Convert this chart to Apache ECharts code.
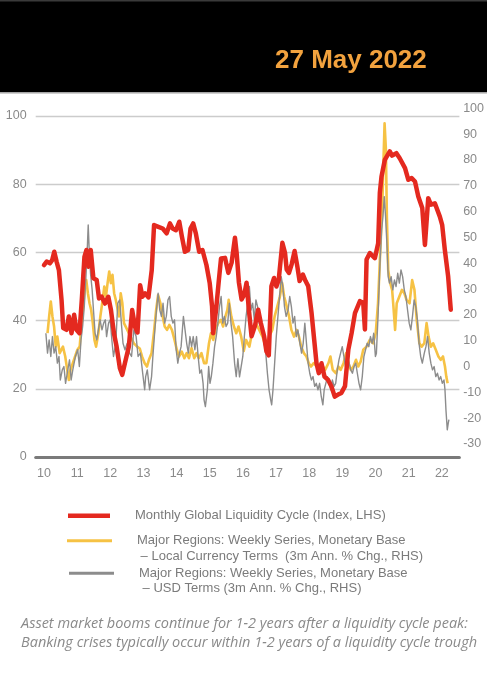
<!DOCTYPE html>
<html>
<head>
<meta charset="utf-8">
<script src="https://cdn.jsdelivr.net/npm/echarts@6/dist/echarts.min.js"></script>
<style>
html,body{margin:0;padding:0;background:#fff;}
#chart{width:487px;height:680px;}
</style>
</head>
<body>
<div id="chart"></div>
<script>
// ---- DATA (decimal year, value) ----
const liquidityCycle = [
[2010.00,56.3],[2010.08,57.3],[2010.18,56.8],[2010.25,57.8],[2010.31,60.2],[2010.38,57.3],[2010.45,54.8],[2010.53,46.0],
[2010.58,37.8],[2010.68,37.3],[2010.75,41.2],[2010.83,36.3],[2010.91,41.7],[2010.98,37.3],[2011.07,36.3],[2011.14,46.0],
[2011.22,58.7],[2011.28,60.7],[2011.34,55.8],[2011.41,60.7],[2011.49,52.4],[2011.59,51.9],[2011.66,46.5],[2011.74,47.0],
[2011.84,45.0],[2011.94,47.0],[2012.02,43.1],[2012.11,36.3],[2012.19,32.4],[2012.29,26.0],[2012.36,24.1],[2012.44,27.5],
[2012.56,32.4],[2012.66,43.1],[2012.75,38.0],[2012.82,36.5],[2012.90,50.4],[2012.97,47.0],[2013.05,48.0],[2013.15,46.8],
[2013.25,54.8],[2013.32,68.0],[2013.45,67.5],[2013.58,67.0],[2013.70,65.6],[2013.80,68.5],[2013.88,67.0],[2013.98,66.5],
[2014.08,69.0],[2014.16,64.6],[2014.25,60.2],[2014.35,60.7],[2014.42,67.0],[2014.50,68.5],[2014.58,65.6],[2014.68,60.2],
[2014.78,60.7],[2014.90,56.3],[2015.00,50.9],[2015.07,44.1],[2015.10,36.3],[2015.19,43.1],[2015.27,51.4],[2015.34,58.2],
[2015.46,58.4],[2015.56,54.0],[2015.66,57.0],[2015.76,64.3],[2015.81,59.9],[2015.88,51.1],[2015.96,46.2],[2016.04,47.6],
[2016.11,51.1],[2016.18,43.2],[2016.26,35.4],[2016.36,38.3],[2016.46,43.2],[2016.54,39.3],[2016.64,35.4],[2016.71,31.0],
[2016.78,29.8],[2016.86,50.1],[2016.94,52.5],[2017.01,50.0],[2017.08,52.0],[2017.19,62.8],[2017.27,59.9],[2017.32,55.0],
[2017.39,54.0],[2017.47,56.5],[2017.56,60.4],[2017.64,56.0],[2017.71,51.6],[2017.81,53.5],[2017.89,51.6],[2017.97,50.1],
[2018.07,42.3],[2018.15,34.4],[2018.22,27.5],[2018.29,24.6],[2018.37,27.5],[2018.46,23.6],[2018.57,22.6],[2018.67,20.7],
[2018.77,17.7],[2018.87,18.3],[2018.97,18.8],[2019.08,20.8],[2019.18,31.5],[2019.28,36.4],[2019.38,42.2],[2019.53,45.7],
[2019.63,45.2],[2019.68,37.4],[2019.73,57.9],[2019.83,59.8],[2019.98,58.3],[2020.08,62.7],[2020.13,77.4],[2020.18,82.2],
[2020.28,87.1],[2020.43,89.6],[2020.50,88.4],[2020.56,88.6],[2020.63,89.1],[2020.73,87.6],[2020.89,84.7],[2020.99,81.3],
[2021.09,81.8],[2021.19,80.8],[2021.29,76.4],[2021.41,73.0],[2021.49,62.2],[2021.59,75.9],[2021.67,74.0],[2021.79,74.4],
[2021.94,70.5],[2022.01,68.1],[2022.09,60.8],[2022.19,53.0],[2022.27,43.2]
];

const baseLocalCcy = [
[2010.11,12.9],[2010.16,19.4],[2010.21,25.2],[2010.26,19.4],[2010.31,15.5],[2010.36,7.7],[2010.41,11.6],[2010.48,5.2],
[2010.53,4.5],[2010.58,7.7],[2010.65,3.9],[2010.71,-1.3],[2010.76,-5.2],[2010.81,-1.3],[2010.88,1.3],[2010.95,3.9],
[2011.02,6.5],[2011.09,7.7],[2011.14,15.5],[2011.19,21.9],[2011.24,29.7],[2011.29,33.5],[2011.34,28.4],[2011.39,24.5],
[2011.44,21.9],[2011.49,16.8],[2011.54,10.3],[2011.59,7.7],[2011.66,12.9],[2011.72,19.4],[2011.79,25.8],[2011.84,31.0],
[2011.89,27.1],[2011.94,32.3],[2011.99,36.8],[2012.04,32.3],[2012.09,35.5],[2012.14,28.4],[2012.19,25.8],[2012.29,19.4],
[2012.34,28.4],[2012.39,24.5],[2012.44,16.8],[2012.54,14.2],[2012.64,11.6],[2012.74,9.0],[2012.84,7.7],[2012.92,7.0],
[2012.99,3.9],[2013.07,1.3],[2013.14,0.0],[2013.20,2.6],[2013.28,5.2],[2013.35,12.9],[2013.42,21.9],[2013.48,27.7],
[2013.55,24.5],[2013.62,19.4],[2013.68,15.5],[2013.75,14.2],[2013.82,16.1],[2013.90,14.2],[2013.98,10.3],[2014.05,6.5],
[2014.12,3.9],[2014.20,5.8],[2014.28,3.2],[2014.35,5.2],[2014.42,3.2],[2014.50,7.1],[2014.58,3.2],[2014.65,5.2],
[2014.72,3.2],[2014.80,5.2],[2014.88,1.3],[2014.95,1.3],[2015.03,9.0],[2015.09,12.9],[2015.16,10.3],[2015.23,14.2],
[2015.31,16.8],[2015.39,18.1],[2015.46,15.5],[2015.53,19.4],[2015.59,21.9],[2015.63,25.8],[2015.71,19.4],[2015.79,15.5],
[2015.86,12.9],[2015.93,15.5],[2016.01,11.6],[2016.09,6.0],[2016.16,10.3],[2016.26,7.7],[2016.36,14.2],[2016.46,16.8],
[2016.56,14.2],[2016.66,11.6],[2016.76,7.7],[2016.86,11.6],[2016.96,14.2],[2017.03,19.4],[2017.11,23.2],[2017.19,27.1],
[2017.26,32.3],[2017.32,27.1],[2017.40,23.2],[2017.47,19.4],[2017.54,14.2],[2017.62,11.6],[2017.70,14.2],[2017.77,11.6],
[2017.84,7.7],[2017.92,5.2],[2018.00,3.9],[2018.07,1.3],[2018.14,0.0],[2018.22,1.3],[2018.32,0.0],[2018.42,-1.3],
[2018.50,0.0],[2018.57,-1.3],[2018.67,1.3],[2018.73,3.9],[2018.80,-1.3],[2018.90,-2.6],[2018.97,0.0],[2019.04,-1.3],
[2019.13,1.3],[2019.21,5.2],[2019.28,1.3],[2019.35,-1.3],[2019.43,0.0],[2019.51,2.6],[2019.58,0.0],[2019.65,1.9],
[2019.73,6.5],[2019.83,7.7],[2019.93,10.3],[2020.03,9.0],[2020.11,12.9],[2020.18,24.5],[2020.25,45.2],[2020.31,62.0],
[2020.35,81.3],[2020.38,94.2],[2020.42,84.0],[2020.45,58.0],[2020.49,37.4],[2020.55,32.3],[2020.61,29.7],[2020.65,23.2],
[2020.70,14.2],[2020.75,24.5],[2020.83,27.1],[2020.91,29.7],[2020.98,28.4],[2021.05,25.8],[2021.14,24.5],[2021.22,33.5],
[2021.29,29.7],[2021.36,18.1],[2021.44,9.0],[2021.51,7.7],[2021.59,9.0],[2021.66,16.8],[2021.72,11.6],[2021.79,7.7],
[2021.86,9.0],[2021.94,6.5],[2022.02,3.9],[2022.09,2.6],[2022.16,3.9],[2022.22,0.0],[2022.26,-3.9],[2022.30,-6.5]
];

const baseUSD = [
[2010.06,12.9],[2010.11,5.2],[2010.16,10.3],[2010.21,3.9],[2010.26,11.6],[2010.31,5.2],[2010.36,7.7],[2010.41,1.3],
[2010.46,3.9],[2010.50,-5.2],[2010.56,-1.3],[2010.61,0.0],[2010.66,-6.5],[2010.71,-2.6],[2010.78,2.6],[2010.83,-5.2],
[2010.88,-1.3],[2010.96,3.9],[2011.03,6.5],[2011.08,0.0],[2011.13,10.3],[2011.18,15.5],[2011.23,23.2],[2011.28,34.8],
[2011.32,45.2],[2011.35,54.8],[2011.38,45.2],[2011.42,36.1],[2011.47,29.7],[2011.51,21.9],[2011.56,12.9],[2011.61,10.3],
[2011.66,14.2],[2011.71,18.1],[2011.77,14.2],[2011.82,16.8],[2011.87,18.1],[2011.91,11.6],[2011.97,16.8],[2012.02,18.1],
[2012.07,10.3],[2012.12,3.9],[2012.19,9.0],[2012.25,24.5],[2012.31,25.8],[2012.36,16.8],[2012.41,9.0],[2012.47,6.5],
[2012.54,9.0],[2012.61,5.2],[2012.67,3.9],[2012.74,14.2],[2012.81,11.6],[2012.87,3.9],[2012.94,5.2],[2013.01,-2.6],
[2013.07,-9.0],[2013.10,-3.9],[2013.15,-1.3],[2013.22,-9.0],[2013.28,-3.9],[2013.32,3.9],[2013.38,14.2],[2013.43,21.9],
[2013.48,28.4],[2013.53,21.9],[2013.58,19.4],[2013.63,24.5],[2013.68,16.8],[2013.73,19.4],[2013.78,25.8],[2013.83,27.1],
[2013.88,19.4],[2013.93,16.8],[2013.98,18.1],[2014.03,6.5],[2014.08,1.3],[2014.13,5.2],[2014.18,7.7],[2014.25,19.4],
[2014.30,14.2],[2014.35,9.0],[2014.40,5.2],[2014.45,11.6],[2014.50,7.7],[2014.55,11.6],[2014.60,6.5],[2014.65,11.6],
[2014.70,3.9],[2014.75,-2.6],[2014.80,-1.3],[2014.85,-6.5],[2014.88,-12.9],[2014.92,-15.5],[2014.95,-16.1],[2014.98,-9.0],
[2015.02,0.0],[2015.06,-6.5],[2015.10,-3.9],[2015.15,1.3],[2015.20,7.7],[2015.25,11.6],[2015.30,16.8],[2015.35,23.2],
[2015.40,27.1],[2015.45,16.8],[2015.50,19.4],[2015.55,15.5],[2015.60,16.8],[2015.65,24.5],[2015.70,16.8],[2015.75,11.6],
[2015.81,1.3],[2015.86,-3.9],[2015.91,3.0],[2015.96,-4.0],[2016.01,-4.0],[2016.06,3.9],[2016.11,12.0],[2016.16,19.4],
[2016.21,24.5],[2016.26,31.0],[2016.31,21.9],[2016.36,24.5],[2016.41,18.1],[2016.46,25.8],[2016.51,23.2],[2016.56,16.8],
[2016.61,18.1],[2016.66,14.2],[2016.71,9.0],[2016.76,5.2],[2016.81,-2.6],[2016.86,-9.0],[2016.91,-12.9],[2016.94,-14.8],
[2016.98,-9.0],[2017.03,1.3],[2017.08,11.6],[2017.13,19.4],[2017.18,27.1],[2017.23,34.8],[2017.28,31.0],[2017.33,23.2],
[2017.38,19.4],[2017.44,21.9],[2017.49,27.1],[2017.54,23.2],[2017.59,16.8],[2017.64,19.4],[2017.69,11.6],[2017.74,14.2],
[2017.80,9.0],[2017.85,5.2],[2017.90,9.0],[2017.95,16.8],[2018.00,9.0],[2018.05,1.3],[2018.10,-2.6],[2018.15,-5.2],
[2018.20,-3.9],[2018.25,-7.7],[2018.30,-6.5],[2018.35,-9.0],[2018.40,-6.5],[2018.45,-11.6],[2018.50,-14.8],[2018.54,-9.0],
[2018.59,-6.5],[2018.64,-3.9],[2018.69,-6.5],[2018.74,-9.0],[2018.79,-5.2],[2018.84,-7.7],[2018.89,-6.5],[2018.94,-1.3],
[2018.99,2.6],[2019.04,5.2],[2019.09,7.7],[2019.14,3.9],[2019.19,0.0],[2019.25,3.9],[2019.30,1.3],[2019.35,-1.3],
[2019.40,-2.6],[2019.45,0.0],[2019.50,1.3],[2019.55,-2.6],[2019.60,-6.5],[2019.65,-9.0],[2019.70,-3.9],[2019.75,3.9],
[2019.80,6.5],[2019.85,9.0],[2019.90,7.7],[2019.95,11.6],[2020.00,9.0],[2020.05,12.9],[2020.10,3.9],[2020.13,5.0],
[2020.18,19.4],[2020.24,40.0],[2020.29,52.9],[2020.33,58.0],[2020.37,65.8],[2020.41,58.0],[2020.45,47.7],[2020.49,34.8],
[2020.53,32.3],[2020.58,34.8],[2020.63,29.7],[2020.68,33.5],[2020.73,31.0],[2020.78,36.1],[2020.83,32.3],[2020.88,37.4],
[2020.93,34.8],[2020.98,29.7],[2021.03,27.1],[2021.08,21.9],[2021.13,16.8],[2021.18,14.2],[2021.23,19.4],[2021.28,25.8],
[2021.33,23.2],[2021.38,18.1],[2021.43,9.0],[2021.48,3.9],[2021.53,1.3],[2021.59,5.2],[2021.64,7.7],[2021.69,11.6],
[2021.74,5.2],[2021.79,1.3],[2021.84,-1.3],[2021.89,0.0],[2021.94,-3.9],[2021.99,-2.6],[2022.04,-5.2],[2022.09,-3.9],
[2022.14,-6.5],[2022.19,-5.2],[2022.22,-9.0],[2022.25,-16.8],[2022.29,-24.5],[2022.32,-21.9],[2022.34,-20.6]
];

const seriesNames = [
  'Monthly Global Liquidity Cycle (Index, LHS)',
  'Major Regions: Weekly Series, Monetary Base – Local Currency Terms (3m Ann. % Chg., RHS)',
  'Major Regions: Weekly Series, Monetary Base – USD Terms (3m Ann. % Chg., RHS)'
];
const legendLines = [
  ['Monthly Global Liquidity Cycle (Index, LHS)'],
  ['Major Regions: Weekly Series, Monetary Base', ' – Local Currency Terms  (3m Ann. % Chg., RHS)'],
  ['Major Regions: Weekly Series, Monetary Base', ' – USD Terms (3m Ann. % Chg., RHS)']
];
const headerDate = '27 May 2022';
const footnote = [
  'Asset market booms continue for 1-2 years after a liquidity cycle peak:',
  'Banking crises typically occur within 1-2 years of a liquidity cycle trough'
];

// ---- CHART ----
const FONT = "'Liberation Sans', Arial, sans-serif";
const LABEL_COLOR = '#8a8a8a';
const X_MIN = 2009.75, X_MAX = 2022.53;
const chart = echarts.init(document.getElementById('chart'), null, {renderer: 'canvas'});

function legendFor(idx, left, top, w, h) {
  return {
    data: [seriesNames[idx]],
    left: left, top: top, padding: 0,
    orient: 'vertical',
    icon: 'rect', itemWidth: w, itemHeight: h,
    itemStyle: {borderWidth: 0},
    selectedMode: false,
    formatter: function () {
      const ls = legendLines[idx];
      return ls.length > 1 ? '\n' + ls.join('\n') : ls[0];
    },
    textStyle: {color: '#7b7b7b', fontSize: 13, fontFamily: FONT, lineHeight: 15.5, padding: [0, 0, 0, 20]}
  };
}

const option = {
  animation: false,
  backgroundColor: '#ffffff',
  graphic: [
    {type: 'rect', z: -10, shape: {x: 0, y: 0, width: 487, height: 92.5}, style: {fill: '#000000'}},
    {type: 'rect', z: -9, shape: {x: 0, y: 0, width: 487, height: 1.5}, style: {fill: '#3a3a3a'}},
    {type: 'rect', z: -9, shape: {x: 0, y: 92.5, width: 487, height: 1.5}, style: {fill: '#cfcfcf'}}
  ],
  title: [
    {text: headerDate, left: 275, top: 46, padding: 0,
     textStyle: {color: '#F2A23E', fontSize: 26, fontWeight: 'bold', fontFamily: FONT, lineHeight: 30}},
    {text: footnote.join('\n'), left: 21, top: 614, padding: 0,
     textStyle: {color: '#8a8a8a', fontSize: 14.5, fontStyle: 'italic', fontWeight: 'normal', fontFamily: "'Open Sans', 'Noto Sans', sans-serif", lineHeight: 19}}
  ],
  legend: [
    legendFor(0, 68, 508, 42, 4.5),
    legendFor(1, 67, 517.5, 45, 3),
    legendFor(2, 69, 550, 45, 3)
  ],
  grid: [
    {left: 35.7, right: 27.6, top: 116, bottom: 223},
    {left: 35.7, right: 27.6, top: 108.3, bottom: 236}
  ],
  xAxis: [
    {type: 'value', gridIndex: 0, min: X_MIN, max: X_MAX, interval: 0.25,
     axisLine: {show: true, lineStyle: {color: '#7a7a7a', width: 3}},
     axisTick: {show: false}, splitLine: {show: false},
     axisLabel: {color: LABEL_COLOR, fontSize: 12.5, fontFamily: FONT, margin: 10,
       showMinLabel: false, showMaxLabel: false,
       formatter: function (v) { return Math.abs(v - Math.round(v)) < 1e-6 ? String(Math.round(v)).slice(2) : ''; }}},
    {type: 'value', gridIndex: 1, min: X_MIN, max: X_MAX, show: false}
  ],
  yAxis: [
    {type: 'value', gridIndex: 0, min: 0, max: 100, interval: 20,
     axisLine: {show: false}, axisTick: {show: false},
     splitLine: {show: true, lineStyle: {color: '#cccccc', width: 1.3}},
     axisLabel: {color: LABEL_COLOR, fontSize: 12.5, fontFamily: FONT, margin: 9}},
    {type: 'value', gridIndex: 1, position: 'right', min: -30, max: 100, interval: 10,
     axisLine: {show: false}, axisTick: {show: false}, splitLine: {show: false},
     axisLabel: {color: LABEL_COLOR, fontSize: 12.5, fontFamily: FONT, margin: 8}}
  ],
  series: [
    {name: seriesNames[1], type: 'line', xAxisIndex: 1, yAxisIndex: 1, data: baseLocalCcy,
     symbol: 'none', clip: false, color: '#F6C244',
     lineStyle: {color: '#F6C244', width: 2.6, join: 'round'}},
    {name: seriesNames[2], type: 'line', xAxisIndex: 1, yAxisIndex: 1, data: baseUSD,
     symbol: 'none', clip: false, color: '#8c8c8c',
     lineStyle: {color: '#8c8c8c', width: 1.4, join: 'round'}},
    {name: seriesNames[0], type: 'line', xAxisIndex: 0, yAxisIndex: 0, data: liquidityCycle,
     symbol: 'none', clip: false, color: '#E4291F',
     lineStyle: {color: '#E4291F', width: 4.5, join: 'round', cap: 'round'}}
  ]
};
chart.setOption(option);
</script>
</body>
</html>
